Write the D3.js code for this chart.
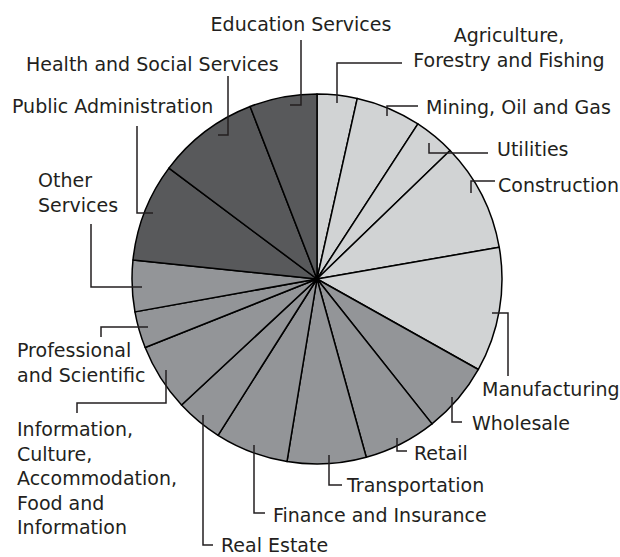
<!DOCTYPE html>
<html>
<head>
<meta charset="utf-8">
<script src="https://cdn.jsdelivr.net/npm/d3@7"></script>
<style>
  html, body { margin: 0; padding: 0; background: #fff; }
  svg { display: block; }
  .lbl { font-family: "DejaVu Sans", sans-serif; font-size: 19px; fill: #231f20; }
</style>
</head>
<body>
<svg id="chart" width="620" height="557"></svg>
<script>
// Industry shares (percent), clockwise from 12 o'clock
const industries = [
  "Agriculture, Forestry and Fishing", "Mining, Oil and Gas", "Utilities", "Construction",
  "Manufacturing", "Wholesale", "Retail", "Transportation", "Finance and Insurance",
  "Real Estate", "Information, Culture, Accommodation, Food and Information",
  "Professional and Scientific", "Other Services", "Public Administration",
  "Health and Social Services", "Education Services"
];
const shares = [3.5, 5.7, 3.6, 9.5, 10.9, 6.2, 6.4, 6.9, 6.4, 4.1, 5.9, 3.2, 4.5, 8.6, 8.9, 5.9];
// Sector group of each industry: goods, private services, public services
const groups = ["goods", "goods", "goods", "goods", "goods",
  "services", "services", "services", "services", "services", "services", "services", "services",
  "public", "public", "public"];

const groupColor = d3.scaleOrdinal()
  .domain(["goods", "services", "public"])
  .range(["#d1d3d4", "#939598", "#58595b"]);

// Label placement: text lines, anchor point, alignment, and leader route
const labelLayout = [
  { lines: ["Agriculture,", "Forestry and Fishing"], x: 509, y: 42, anchor: "middle",
    leader: [[337, 103], [337, 63], [402, 63]] },
  { lines: ["Mining, Oil and Gas"], x: 426, y: 114, anchor: "start",
    leader: [[387, 116], [387, 106], [418, 106]] },
  { lines: ["Utilities"], x: 497, y: 156, anchor: "start",
    leader: [[429, 143], [429, 153], [488, 153]] },
  { lines: ["Construction"], x: 498, y: 192, anchor: "start",
    leader: [[471, 193], [471, 181], [495, 181]] },
  { lines: ["Manufacturing"], x: 482, y: 396, anchor: "start",
    leader: [[492, 313], [508, 313], [508, 376]] },
  { lines: ["Wholesale"], x: 472, y: 430, anchor: "start",
    leader: [[452, 397], [452, 422], [462, 422]] },
  { lines: ["Retail"], x: 414, y: 460, anchor: "start",
    leader: [[397, 438], [397, 451], [407, 451]] },
  { lines: ["Transportation"], x: 347, y: 492, anchor: "start",
    leader: [[329, 455], [329, 485], [342, 485]] },
  { lines: ["Finance and Insurance"], x: 273, y: 522, anchor: "start",
    leader: [[254, 445], [254, 513], [265, 513]] },
  { lines: ["Real Estate"], x: 221, y: 552, anchor: "start",
    leader: [[203, 415], [203, 545], [213, 545]] },
  { lines: ["Information,", "Culture,", "Accommodation,", "Food and", "Information"], x: 17, y: 436, anchor: "start",
    leader: [[166, 370], [166, 403], [77, 403], [77, 413]] },
  { lines: ["Professional", "and Scientific"], x: 17, y: 357, anchor: "start",
    leader: [[148, 327], [101, 327], [101, 337]] },
  { lines: ["Other", "Services"], x: 38, y: 187, anchor: "start",
    leader: [[142, 287], [91, 287], [91, 224]] },
  { lines: ["Public Administration"], x: 12, y: 113, anchor: "start",
    leader: [[153, 213], [137, 213], [137, 126]] },
  { lines: ["Health and Social Services"], x: 26, y: 71, anchor: "start",
    leader: [[218, 135], [228, 135], [228, 76]] },
  { lines: ["Education Services"], x: 301, y: 31, anchor: "middle",
    leader: [[290, 105], [301, 105], [301, 40]] }
];

const svg = d3.select("#chart");
const cx = 317, cy = 279, radius = 185;

const data = industries.map((name, i) => ({ name, value: shares[i], group: groups[i] }));

const pie = d3.pie().sort(null).value(d => d.value);
const arc = d3.arc().innerRadius(0).outerRadius(radius);

const g = svg.append("g").attr("transform", `translate(${cx},${cy})`);

g.selectAll("path.slice")
  .data(pie(data))
  .join("path")
  .attr("class", "slice")
  .attr("d", arc)
  .attr("fill", d => groupColor(d.data.group))
  .attr("stroke", "#000")
  .attr("stroke-width", 1.5)
  .attr("stroke-linejoin", "round");

// Leaders
const line = d3.line();
svg.selectAll("path.leader")
  .data(labelLayout)
  .join("path")
  .attr("class", "leader")
  .attr("d", d => line(d.leader))
  .attr("fill", "none")
  .attr("stroke", "#231f20")
  .attr("stroke-width", 1.5);

// Labels
const lineHeight = 24.5;
svg.selectAll("text.lbl")
  .data(labelLayout)
  .join("text")
  .attr("class", "lbl")
  .attr("text-anchor", d => d.anchor)
  .attr("x", d => d.x)
  .attr("y", d => d.y)
  .each(function (d) {
    d3.select(this).selectAll("tspan")
      .data(d.lines)
      .join("tspan")
      .attr("x", d.x)
      .attr("dy", (t, i) => i === 0 ? 0 : lineHeight)
      .text(t => t);
  });
</script>
</body>
</html>
